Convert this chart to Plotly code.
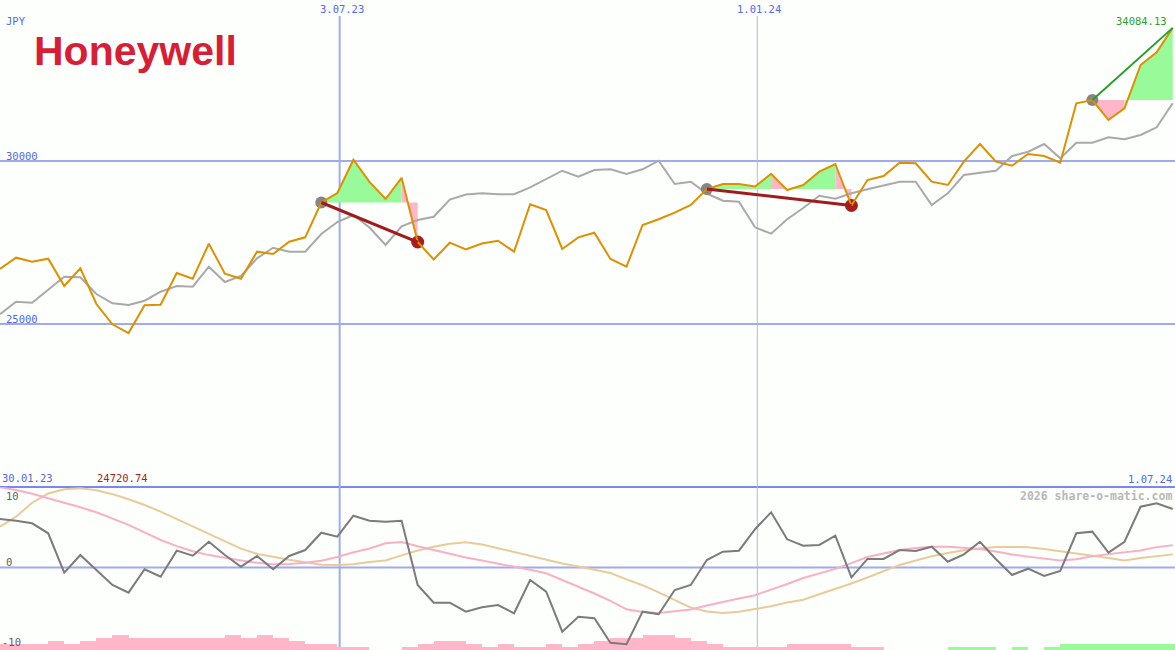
import pandas as pd
import plotly.graph_objects as go

# ---------------- data ----------------
dates = pd.date_range("2023-02-05", periods=74, freq="7D")

price = [26687, 27034, 26911, 27003, 26166, 26709, 25613, 24991, 24720.74, 25574,
         25592, 26564, 26390, 27463, 26543, 26390, 27218, 27147, 27525, 27659,
         28727, 29018, 30040, 29362, 28834, 29485, 27515, 26979, 27494, 27285,
         27469, 27555, 27218, 28672, 28497, 27301, 27659, 27801, 26994, 26758,
         28037, 28212, 28414, 28650, 29141, 29294, 29294, 29218, 29607, 29110,
         29264, 29672, 29908, 28635, 29417, 29540, 29948, 29929, 29365, 29264,
         29979, 30521, 29979, 29856, 30215, 30153, 29948, 31770, 31871, 31258,
         31617, 32945, 33334, 34084.13]

moving_avg = [25297, 25684, 25653, 26043, 26451, 26432, 25920, 25635, 25583, 25715,
              25991, 26166, 26144, 26758, 26288, 26472, 27015, 27340, 27218, 27218,
              27761, 28129, 28344, 27960, 27423, 27997, 28190, 28291, 28819, 28972,
              29009, 28979, 28979, 29193, 29439, 29702, 29518, 29724, 29745, 29601,
              29745, 30009, 29294, 29365, 29003, 28782, 28752, 27966, 27770, 28212,
              28558, 28932, 28844, 29009, 29132, 29242, 29365, 29365, 28650, 29009,
              29571, 29641, 29702, 30153, 30285, 30521, 30083, 30561, 30561, 30727,
              30666, 30798, 31034, 31770]

oscillator = [6.02, 5.81, 5.49, 4.25, -0.65, 1.55, -0.31, -2.17, -3.13, -0.22,
              -1.14, 2.09, 1.47, 3.20, 1.55, 0.10, 1.43, -0.22, 1.43, 2.17,
              4.32, 3.83, 6.43, 5.81, 5.69, 5.81, -2.17, -4.37, -4.37, -5.49,
              -4.94, -4.66, -5.69, -1.55, -3.01, -7.98, -6.11, -6.31, -9.34, -9.54,
              -5.49, -5.81, -2.80, -2.17, 0.93, 1.96, 2.09, 4.75, 6.86, 3.50,
              2.71, 2.80, 3.95, -1.22, 1.06, 1.06, 2.17, 2.05, 2.58, 0.72,
              1.64, 3.20, 1.02, -0.93, -0.15, -1.06, -0.43, 4.25, 4.45, 1.84,
              3.20, 7.55, 7.98, 7.27]

signal_fast = [9.96, 9.63, 9.16, 8.63, 8.07, 7.48, 6.86, 6.10, 5.30, 4.36,
               3.42, 2.66, 2.02, 1.54, 1.18, 0.88, 0.58, 0.40, 0.43, 0.58,
               0.84, 1.30, 1.90, 2.37, 3.01, 3.17, 2.65, 2.15, 1.68, 1.24,
               0.88, 0.51, 0.15, -0.29, -0.72, -1.53, -2.32, -3.23, -4.14, -5.20,
               -5.54, -5.65, -5.45, -5.23, -4.73, -4.24, -3.84, -3.44, -2.76, -2.05,
               -1.30, -0.77, -0.17, 0.55, 1.30, 1.74, 2.17, 2.42, 2.58, 2.58,
               2.46, 2.29, 1.98, 1.61, 1.35, 1.09, 0.86, 1.02, 1.40, 1.66,
               1.86, 2.12, 2.53, 2.77]

signal_slow = [5.07, 6.31, 8.05, 9.19, 9.73, 9.83, 9.59, 9.11, 8.47, 7.76,
               6.94, 6.04, 5.13, 4.19, 3.24, 2.34, 1.69, 1.28, 0.96, 0.66,
               0.35, 0.31, 0.41, 0.68, 0.86, 1.50, 2.10, 2.58, 2.96, 3.13,
               2.86, 2.40, 1.93, 1.42, 0.93, 0.50, 0.12, -0.27, -0.68, -1.47,
               -2.21, -3.08, -3.99, -4.98, -5.47, -5.66, -5.49, -5.20, -4.82, -4.34,
               -4.00, -3.33, -2.67, -1.99, -1.25, -0.46, 0.32, 0.87, 1.40, 1.81,
               2.14, 2.35, 2.55, 2.56, 2.52, 2.31, 2.05, 1.76, 1.47, 1.17,
               0.87, 1.17, 1.44, 1.63]

# histogram levels: positive = pink, negative = green
hist_levels = [2, 2, 2, 3, 2, 3, 4, 5, 4, 4,
               4, 4, 4, 4, 5, 4, 5, 4, 3, 2,
               2, 1, 1, 0, 0, 1, 2, 3, 3, 2,
               1, 2, 1, 1, 2, 1, 2, 3, 4, 4,
               5, 5, 4, 3, 2, 1, 1, 1, 1, 2,
               2, 2, 2, 1, 1, 0, 0, 0, 0, -1,
               -1, -1, 0, -1, 0, -1, -2, -2, -2, -2,
               -2, -2, -2, -2]

signal_start = [20, 44, 68]
signal_end = [26, 53, 73]
signal_closed = [True, True, False]

grid_levels = [30000, 25000]
date_marks = ["2023-07-03", "2024-01-01"]
date_labels = ["3.07.23", "1.01.24"]

# ---------------- styling ----------------
W, H = 1175, 650
BG = "#fcfffc"
BLUE_TXT = "#5566f2"
GRID = "#a0aaf0"
GREEN_F = "#98fa98"
PINK_F = "#ffb6c8"
MONO = "DejaVu Sans Mono"
SPLIT = (H - 487) / H

fig = go.Figure()

# signal fills
gx, gy, kx, ky = [], [], [], []
for s, e in zip(signal_start, signal_end):
    base = price[s]
    for i in range(s, e):
        xs = [dates[i], dates[i + 1], dates[i + 1], dates[i], None]
        ys = [price[i], price[i + 1], base, base, None]
        if price[i + 1] >= base:
            gx += xs; gy += ys
        else:
            kx += xs; ky += ys
fig.add_trace(go.Scatter(x=gx, y=gy, fill="toself", fillcolor=GREEN_F, mode="lines",
                         line=dict(width=0, color=GREEN_F), hoverinfo="skip", showlegend=False))
fig.add_trace(go.Scatter(x=kx, y=ky, fill="toself", fillcolor=PINK_F, mode="lines",
                         line=dict(width=0, color=PINK_F), hoverinfo="skip", showlegend=False))

# moving average
fig.add_trace(go.Scatter(x=dates, y=moving_avg, mode="lines",
                         line=dict(color="#a9a9a9", width=2), showlegend=False))

# markers
fig.add_trace(go.Scatter(x=[dates[s] for s in signal_start], y=[price[s] for s in signal_start],
                         mode="markers", marker=dict(color="#858585", size=12), showlegend=False))
ends = [e for e, c in zip(signal_end, signal_closed) if c]
fig.add_trace(go.Scatter(x=[dates[e] for e in ends], y=[price[e] for e in ends],
                         mode="markers", marker=dict(color="#a81e1e", size=13), showlegend=False))

# price
fig.add_trace(go.Scatter(x=dates, y=price, mode="lines",
                         line=dict(color="#dd9000", width=2), showlegend=False))

# trend lines
for s, e, c in zip(signal_start, signal_end, signal_closed):
    fig.add_trace(go.Scatter(x=[dates[s], dates[e]], y=[price[s], price[e]], mode="lines",
                             line=dict(color="#a01c1c" if c else "#2a9e2a", width=3 if c else 2),
                             showlegend=False))

# histogram bars (bottom panel base axis)
fig.add_trace(go.Bar(x=dates, y=[abs(v) for v in hist_levels], yaxis="y2",
                     marker=dict(color=[PINK_F if v > 0 else GREEN_F for v in hist_levels],
                                 line=dict(width=0)),
                     offset=0, width=7 * 86400000, showlegend=False))

# oscillator lines (overlay axis)
fig.add_trace(go.Scatter(x=dates, y=signal_slow, yaxis="y3", mode="lines",
                         line=dict(color="#e8cb98", width=2), showlegend=False))
fig.add_trace(go.Scatter(x=dates, y=signal_fast, yaxis="y3", mode="lines",
                         line=dict(color="#f9b0c4", width=2), showlegend=False))
fig.add_trace(go.Scatter(x=dates, y=oscillator, yaxis="y3", mode="lines",
                         line=dict(color="#7b7b7b", width=2), showlegend=False))

# ---------------- shapes ----------------
shapes = []
for g in grid_levels:
    shapes.append(dict(type="line", xref="paper", x0=0, x1=1, yref="y", y0=g, y1=g,
                       line=dict(color=GRID, width=2), layer="below"))
shapes.append(dict(type="line", xref="paper", x0=0, x1=1, yref="y3", y0=0, y1=0,
                   line=dict(color=GRID, width=2), layer="below"))
shapes.append(dict(type="line", xref="paper", x0=0, x1=1, yref="paper", y0=SPLIT, y1=SPLIT,
                   line=dict(color="#7a86f2", width=2), layer="below"))
shapes.append(dict(type="line", xref="x", x0=date_marks[0], x1=date_marks[0], yref="paper",
                   y0=0, y1=1 - 16 / H, line=dict(color=GRID, width=2), layer="below"))
shapes.append(dict(type="line", xref="x", x0=date_marks[1], x1=date_marks[1], yref="paper",
                   y0=0, y1=1 - 16 / H, line=dict(color="#b4b8da", width=1), layer="below"))


def ann(text, px, py, color, size=10.5, xanchor="left", bold=False, family=MONO):
    return dict(text=f"<b>{text}</b>" if bold else text, x=px / W, y=1 - py / H,
                xref="paper", yref="paper", xanchor=xanchor, yanchor="middle",
                showarrow=False, borderpad=0, font=dict(family=family, size=size, color=color))


annotations = [
    ann("JPY", 5, 21, BLUE_TXT),
    ann("Honeywell", 33, 51, "#d81e36", size=41, bold=True, family="Liberation Sans"),
    ann(date_labels[0], 342, 9, BLUE_TXT, xanchor="center"),
    ann(date_labels[1], 759, 9, BLUE_TXT, xanchor="center"),
    ann(f"{price[-1]:.2f}", 1168, 21, "#2e9e2e", xanchor="right"),
    ann(f"{grid_levels[0]}", 5, 156, BLUE_TXT),
    ann(f"{grid_levels[1]}", 5, 319, BLUE_TXT),
    ann("30.01.23", 1, 478, BLUE_TXT),
    ann(f"{min(price):.2f}", 96, 478, "#a81e1e"),
    ann("1.07.24", 1173, 479, BLUE_TXT, xanchor="right"),
    ann("2026 share-o-matic.com", 1173, 496, "#b8b8b8", size=11.5, xanchor="right", bold=True),
    ann("10", 5, 496, "#606060"),
    ann("0", 5, 562, "#606060"),
    ann("-10", 1, 642, "#606060"),
]

fig.update_layout(
    width=W, height=H, margin=dict(l=0, r=0, t=0, b=0),
    paper_bgcolor=BG, plot_bgcolor=BG, showlegend=False, bargap=0,
    xaxis=dict(type="date", range=[dates[0], "2024-07-01"], visible=False, fixedrange=True),
    yaxis=dict(domain=[SPLIT, 1], range=[20000, 34939], visible=False),
    yaxis2=dict(domain=[0, SPLIT], range=[0, 53.4], visible=False, anchor="x"),
    yaxis3=dict(overlaying="y2", range=[-10.25, 10], visible=False, anchor="x"),
    shapes=shapes, annotations=annotations,
)

fig.write_html("out.html", config={"displayModeBar": False},
               post_script="document.body.style.margin='0';document.body.style.overflow='hidden';")
